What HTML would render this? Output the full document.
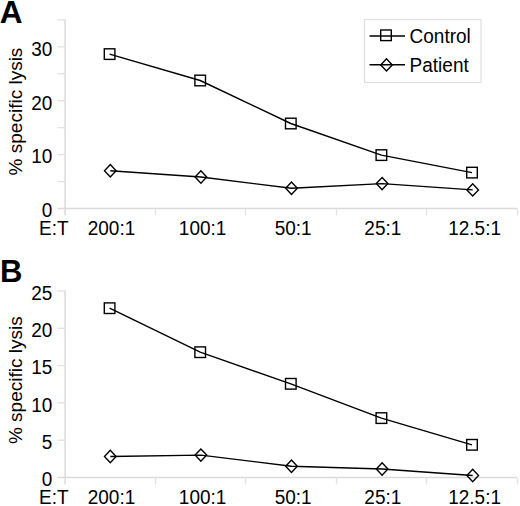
<!DOCTYPE html>
<html><head><meta charset="utf-8"><style>
html,body{margin:0;padding:0;background:#fff;}
svg{display:block;}
text{font-family:"Liberation Sans", sans-serif;font-size:19px;fill:#000;}
</style></head><body>
<svg width="520" height="506" viewBox="0 0 520 506">
<line x1="65.1" y1="19.35" x2="65.1" y2="215.5" stroke="#dadada" stroke-width="1.5"/>
<line x1="65.1" y1="208.5" x2="517" y2="208.5" stroke="#dadada" stroke-width="1.5"/>
<line x1="57.5" y1="208.50" x2="65.1" y2="208.50" stroke="#dadada" stroke-width="1.5"/>
<line x1="57.5" y1="181.55" x2="65.1" y2="181.55" stroke="#e4e4e4" stroke-width="1.4"/>
<line x1="57.5" y1="154.60" x2="65.1" y2="154.60" stroke="#e4e4e4" stroke-width="1.4"/>
<line x1="57.5" y1="127.65" x2="65.1" y2="127.65" stroke="#e4e4e4" stroke-width="1.4"/>
<line x1="57.5" y1="100.70" x2="65.1" y2="100.70" stroke="#e4e4e4" stroke-width="1.4"/>
<line x1="57.5" y1="73.75" x2="65.1" y2="73.75" stroke="#e4e4e4" stroke-width="1.4"/>
<line x1="57.5" y1="46.80" x2="65.1" y2="46.80" stroke="#e4e4e4" stroke-width="1.4"/>
<line x1="57.5" y1="19.85" x2="65.1" y2="19.85" stroke="#e4e4e4" stroke-width="1.4"/>
<line x1="155.5" y1="208.5" x2="155.5" y2="215.5" stroke="#e4e4e4" stroke-width="1.4"/>
<line x1="245.5" y1="208.5" x2="245.5" y2="215.5" stroke="#e4e4e4" stroke-width="1.4"/>
<line x1="336.5" y1="208.5" x2="336.5" y2="215.5" stroke="#e4e4e4" stroke-width="1.4"/>
<line x1="426.5" y1="208.5" x2="426.5" y2="215.5" stroke="#e4e4e4" stroke-width="1.4"/>
<line x1="517.5" y1="208.5" x2="517.5" y2="215.5" stroke="#e4e4e4" stroke-width="1.4"/>
<line x1="65.1" y1="290.50" x2="65.1" y2="484.5" stroke="#dadada" stroke-width="1.5"/>
<line x1="65.1" y1="477.5" x2="517" y2="477.5" stroke="#dadada" stroke-width="1.5"/>
<line x1="57.5" y1="477.50" x2="65.1" y2="477.50" stroke="#dadada" stroke-width="1.5"/>
<line x1="57.5" y1="440.20" x2="65.1" y2="440.20" stroke="#e4e4e4" stroke-width="1.4"/>
<line x1="57.5" y1="402.90" x2="65.1" y2="402.90" stroke="#e4e4e4" stroke-width="1.4"/>
<line x1="57.5" y1="365.60" x2="65.1" y2="365.60" stroke="#e4e4e4" stroke-width="1.4"/>
<line x1="57.5" y1="328.30" x2="65.1" y2="328.30" stroke="#e4e4e4" stroke-width="1.4"/>
<line x1="57.5" y1="291.00" x2="65.1" y2="291.00" stroke="#e4e4e4" stroke-width="1.4"/>
<line x1="155.5" y1="477.5" x2="155.5" y2="484.5" stroke="#e4e4e4" stroke-width="1.4"/>
<line x1="245.5" y1="477.5" x2="245.5" y2="484.5" stroke="#e4e4e4" stroke-width="1.4"/>
<line x1="336.5" y1="477.5" x2="336.5" y2="484.5" stroke="#e4e4e4" stroke-width="1.4"/>
<line x1="426.5" y1="477.5" x2="426.5" y2="484.5" stroke="#e4e4e4" stroke-width="1.4"/>
<line x1="517.5" y1="477.5" x2="517.5" y2="484.5" stroke="#e4e4e4" stroke-width="1.4"/>
<text transform="translate(52.30 217.20) scale(1 1.055)" text-anchor="end">0</text>
<text transform="translate(52.30 163.46) scale(1 1.055)" text-anchor="end">10</text>
<text transform="translate(52.30 109.72) scale(1 1.055)" text-anchor="end">20</text>
<text transform="translate(52.30 55.98) scale(1 1.055)" text-anchor="end">30</text>
<text transform="translate(52.30 486.20) scale(1 1.055)" text-anchor="end">0</text>
<text transform="translate(52.30 448.90) scale(1 1.055)" text-anchor="end">5</text>
<text transform="translate(52.30 411.60) scale(1 1.055)" text-anchor="end">10</text>
<text transform="translate(52.30 374.30) scale(1 1.055)" text-anchor="end">15</text>
<text transform="translate(52.30 337.00) scale(1 1.055)" text-anchor="end">20</text>
<text transform="translate(52.30 299.70) scale(1 1.055)" text-anchor="end">25</text>
<text transform="translate(39.00 235.00) scale(1 1.055)">E:T</text>
<text transform="translate(111.50 235.00) scale(1 1.055)" text-anchor="middle">200:1</text>
<text transform="translate(202.60 235.00) scale(1 1.055)" text-anchor="middle">100:1</text>
<text transform="translate(293.20 235.00) scale(1 1.055)" text-anchor="middle">50:1</text>
<text transform="translate(382.80 235.00) scale(1 1.055)" text-anchor="middle">25:1</text>
<text transform="translate(474.60 235.00) scale(1 1.055)" text-anchor="middle">12.5:1</text>
<text transform="translate(39.00 504.30) scale(1 1.055)">E:T</text>
<text transform="translate(111.50 504.30) scale(1 1.055)" text-anchor="middle">200:1</text>
<text transform="translate(202.60 504.30) scale(1 1.055)" text-anchor="middle">100:1</text>
<text transform="translate(293.20 504.30) scale(1 1.055)" text-anchor="middle">50:1</text>
<text transform="translate(382.80 504.30) scale(1 1.055)" text-anchor="middle">25:1</text>
<text transform="translate(474.60 504.30) scale(1 1.055)" text-anchor="middle">12.5:1</text>
<text transform="translate(21.6 111.5) rotate(-90)" text-anchor="middle">% specific lysis</text>
<text transform="translate(21.6 380.2) rotate(-90)" text-anchor="middle">% specific lysis</text>
<text x="-0.3" y="22.7" style="font-size:31.5px;font-weight:bold">A</text>
<text x="0" y="282.3" style="font-size:31px;font-weight:bold">B</text>
<polyline points="109.60,54.10 200.20,80.50 290.80,123.50 381.40,155.10 472.00,172.60" fill="none" stroke="#000" stroke-width="1.4" stroke-linejoin="round"/>
<polyline points="110.30,170.80 200.90,177.00 291.50,188.30 382.10,183.60 472.70,189.90" fill="none" stroke="#000" stroke-width="1.4" stroke-linejoin="round"/>
<polyline points="109.60,308.20 200.20,352.20 290.80,383.80 381.40,418.10 472.00,444.80" fill="none" stroke="#000" stroke-width="1.4" stroke-linejoin="round"/>
<polyline points="110.30,456.50 200.90,455.10 291.50,466.30 382.10,469.00 472.70,475.50" fill="none" stroke="#000" stroke-width="1.4" stroke-linejoin="round"/>
<rect x="104.30" y="48.80" width="10.6" height="10.6" fill="none" stroke="#000" stroke-width="1.4"/>
<rect x="194.90" y="75.20" width="10.6" height="10.6" fill="none" stroke="#000" stroke-width="1.4"/>
<rect x="285.50" y="118.20" width="10.6" height="10.6" fill="none" stroke="#000" stroke-width="1.4"/>
<rect x="376.10" y="149.80" width="10.6" height="10.6" fill="none" stroke="#000" stroke-width="1.4"/>
<rect x="466.70" y="167.30" width="10.6" height="10.6" fill="none" stroke="#000" stroke-width="1.4"/>
<path d="M104.50 170.80L110.30 164.60L116.10 170.80L110.30 177.00Z" fill="none" stroke="#000" stroke-width="1.4" stroke-linejoin="miter"/>
<path d="M195.10 177.00L200.90 170.80L206.70 177.00L200.90 183.20Z" fill="none" stroke="#000" stroke-width="1.4" stroke-linejoin="miter"/>
<path d="M285.70 188.30L291.50 182.10L297.30 188.30L291.50 194.50Z" fill="none" stroke="#000" stroke-width="1.4" stroke-linejoin="miter"/>
<path d="M376.30 183.60L382.10 177.40L387.90 183.60L382.10 189.80Z" fill="none" stroke="#000" stroke-width="1.4" stroke-linejoin="miter"/>
<path d="M466.90 189.90L472.70 183.70L478.50 189.90L472.70 196.10Z" fill="none" stroke="#000" stroke-width="1.4" stroke-linejoin="miter"/>
<rect x="104.30" y="302.90" width="10.6" height="10.6" fill="none" stroke="#000" stroke-width="1.4"/>
<rect x="194.90" y="346.90" width="10.6" height="10.6" fill="none" stroke="#000" stroke-width="1.4"/>
<rect x="285.50" y="378.50" width="10.6" height="10.6" fill="none" stroke="#000" stroke-width="1.4"/>
<rect x="376.10" y="412.80" width="10.6" height="10.6" fill="none" stroke="#000" stroke-width="1.4"/>
<rect x="466.70" y="439.50" width="10.6" height="10.6" fill="none" stroke="#000" stroke-width="1.4"/>
<path d="M104.50 456.50L110.30 450.30L116.10 456.50L110.30 462.70Z" fill="none" stroke="#000" stroke-width="1.4" stroke-linejoin="miter"/>
<path d="M195.10 455.10L200.90 448.90L206.70 455.10L200.90 461.30Z" fill="none" stroke="#000" stroke-width="1.4" stroke-linejoin="miter"/>
<path d="M285.70 466.30L291.50 460.10L297.30 466.30L291.50 472.50Z" fill="none" stroke="#000" stroke-width="1.4" stroke-linejoin="miter"/>
<path d="M376.30 469.00L382.10 462.80L387.90 469.00L382.10 475.20Z" fill="none" stroke="#000" stroke-width="1.4" stroke-linejoin="miter"/>
<path d="M466.90 475.50L472.70 469.30L478.50 475.50L472.70 481.70Z" fill="none" stroke="#000" stroke-width="1.4" stroke-linejoin="miter"/>
<rect x="364.5" y="19.5" width="116.5" height="63" fill="#fff" stroke="#e0e0e0" stroke-width="1.2"/>
<line x1="369.5" y1="36" x2="405" y2="36" stroke="#000" stroke-width="1.4"/>
<rect x="380.70" y="30.00" width="10.6" height="10.6" fill="none" stroke="#000" stroke-width="1.4"/>
<line x1="369.5" y1="64.8" x2="405" y2="64.8" stroke="#000" stroke-width="1.4"/>
<path d="M380.70 64.90L386.50 58.70L392.30 64.90L386.50 71.10Z" fill="none" stroke="#000" stroke-width="1.4" stroke-linejoin="miter"/>
<text transform="translate(409.60 43.10) scale(1 1.055)">Control</text>
<text transform="translate(409.60 71.70) scale(1 1.055)">Patient</text>
</svg>
</body></html>
